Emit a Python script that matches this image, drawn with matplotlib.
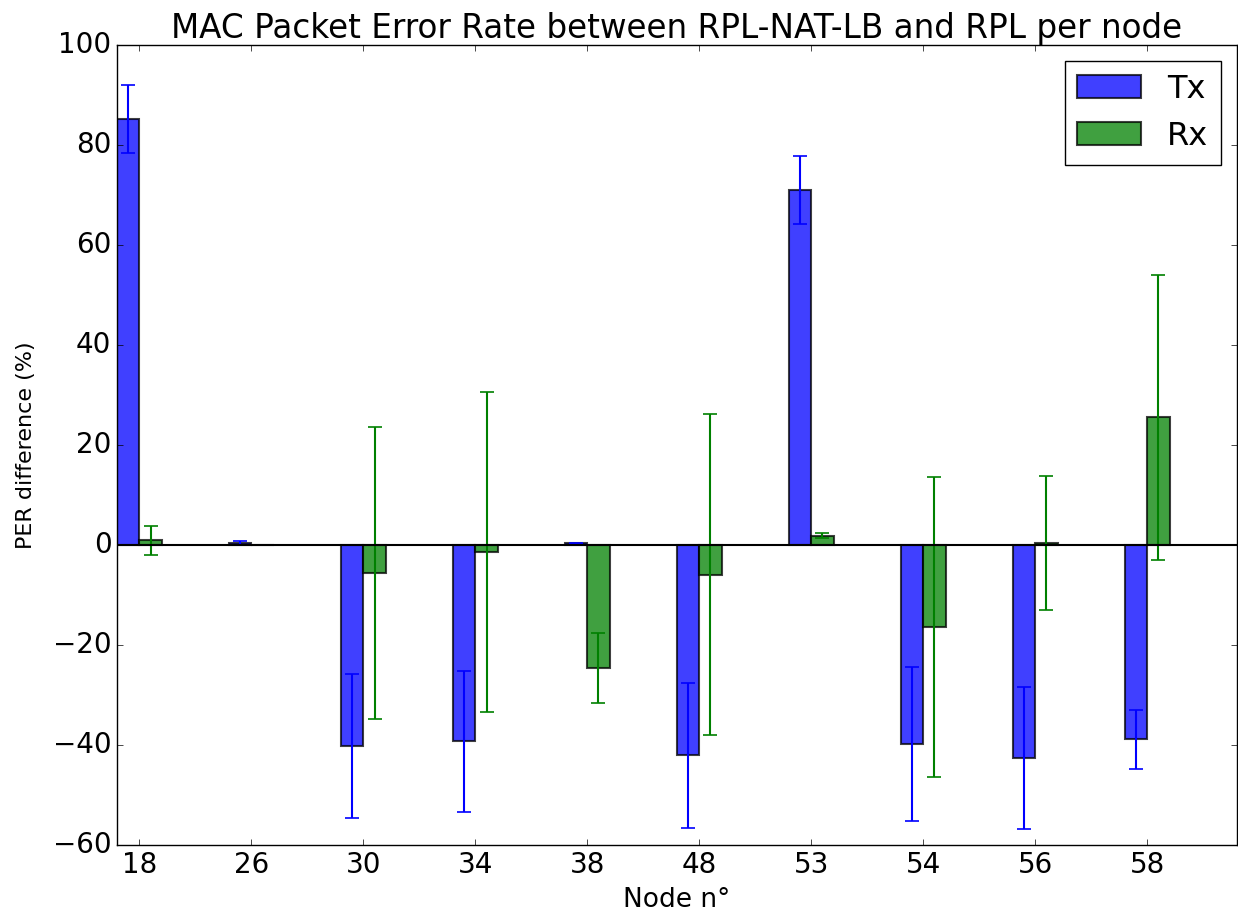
import matplotlib
matplotlib.use('agg')
import matplotlib.pyplot as plt
import numpy as np

nodes = ['18', '26', '30', '34', '38', '48', '53', '54', '56', '58']
tx_mean = [85.3, 0.3, -40.3, -39.3, 0.3, -42.1, 71.1, -39.8, -42.7, -38.9]
tx_err = [6.8, 0.4, 14.4, 14.1, 0.1, 14.5, 6.8, 15.4, 14.2, 5.9]
rx_mean = [0.9, 0.0, -5.7, -1.5, -24.6, -6.0, 1.8, -16.5, 0.4, 25.5]
rx_err = [2.9, 0.0, 29.2, 32.0, 7.0, 32.1, 0.5, 30.0, 13.4, 28.5]

plt.style.use('classic')
plt.rcParams['font.size'] = 16

width = 0.2
ind = np.arange(len(nodes))

fig = plt.figure(figsize=(12.38, 9.13), dpi=100)
ax = fig.add_axes([0.0945, 0.0745, 0.9045, 0.8762])

ax.bar(ind, tx_mean, width, align='edge', color='b', alpha=0.75,
       edgecolor='k', linewidth=1.5, label='Tx')
ax.bar(ind + width, rx_mean, width, align='edge', color='g', alpha=0.75,
       edgecolor='k', linewidth=1.5, label='Rx')
ax.errorbar(ind + width / 2, tx_mean, yerr=tx_err, fmt='none', ecolor='b',
            elinewidth=1.5, capsize=5, capthick=1.2)
ax.errorbar(ind + 1.5 * width, rx_mean, yerr=rx_err, fmt='none', ecolor='g',
            elinewidth=1.5, capsize=5, capthick=1.2)
ax.axhline(0, color='k', linewidth=1.5)

ax.set_xlim(0, 10)
ax.set_ylim(-60, 100)
ax.set_xticks(ind + width)
ax.set_xticklabels(nodes)
ax.tick_params(labelsize=20)
ax.set_xlabel('Node n°', fontsize=19, labelpad=6)
ax.set_ylabel('PER difference (%)', fontsize=16, labelpad=12)
ax.set_title('MAC Packet Error Rate between RPL-NAT-LB and RPL per node', fontsize=23.5)
ax.legend(loc='upper right', fontsize=23)

fig.savefig('out.png', dpi=100)
